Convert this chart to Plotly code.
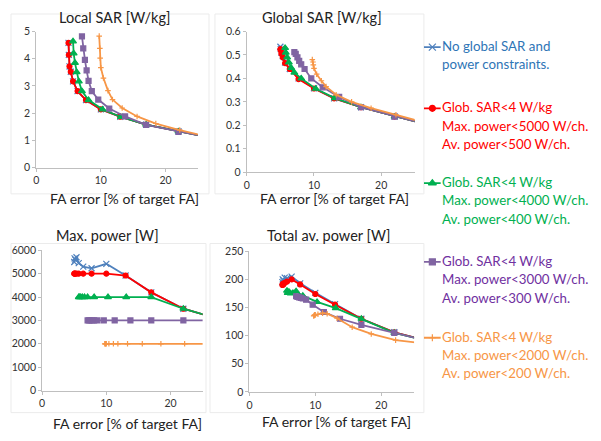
import plotly.graph_objects as go

# The page body adds an 8 px margin, so the figure is sized to fill the rest of the window.
OFF = 8
W, H = 601 - OFF, 441 - OFF

# ---------------- data ----------------
series_names = [
    "No global SAR and<br>power constraints.",
    "Glob. SAR<4 W/kg<br>Max. power<5000 W/ch.<br>Av. power<500 W/ch.",
    "Glob. SAR<4 W/kg<br>Max. power<4000 W/ch.<br>Av. power<400 W/ch.",
    "Glob. SAR<4 W/kg<br>Max. power<3000 W/ch.<br>Av. power<300 W/ch.",
    "Glob. SAR<4 W/kg<br>Max. power<2000 W/ch.<br>Av. power<200 W/ch.",
]

# FA error [% of target FA]
fa_blue = [5.0, 5.05, 5.15, 5.35, 5.7, 6.4, 7.7, 10.0, 13.0, 17.0, 22.0, 28.0]
fa_red = [5.0, 5.05, 5.15, 5.35, 5.7, 6.4, 7.7, 10.0, 13.0, 17.0, 22.0, 28.0]
fa_green = [5.7, 5.8, 6.0, 6.26, 6.6, 7.08, 8.1, 10.26, 13.1, 17.0, 22.0, 28.0]
fa_purple = [7.08, 7.28, 7.54, 7.8, 8.1, 8.6, 9.6, 11.3, 13.75, 17.0, 22.0, 28.0]
fa_orange = [9.75, 9.85, 9.9, 10.0, 10.4, 11.1, 11.8, 13.3, 15.6, 18.5, 22.2, 28.0]

# Local SAR [W/kg]
local_blue = [4.58, 4.14, 3.72, 3.52, 3.17, 2.81, 2.48, 2.14, 1.87, 1.58, 1.33, 1.05]
local_red = [4.58, 4.14, 3.72, 3.52, 3.17, 2.81, 2.48, 2.14, 1.87, 1.58, 1.33, 1.05]
local_green = [4.64, 4.2, 3.85, 3.51, 3.17, 2.81, 2.48, 2.14, 1.86, 1.58, 1.33, 1.05]
local_purple = [4.82, 4.38, 3.96, 3.57, 3.19, 2.81, 2.5, 2.17, 1.88, 1.57, 1.31, 1.05]
local_orange = [4.83, 4.38, 4.02, 3.67, 3.29, 2.83, 2.5, 2.19, 1.88, 1.62, 1.38, 1.05]

# Global SAR [W/kg]
global_blue = [0.535, 0.525, 0.51, 0.495, 0.468, 0.44, 0.4, 0.358, 0.315, 0.277, 0.237, 0.195]
global_red = [0.525, 0.52, 0.505, 0.49, 0.465, 0.44, 0.397, 0.357, 0.315, 0.277, 0.237, 0.195]
global_green = [0.53, 0.51, 0.49, 0.468, 0.445, 0.425, 0.40, 0.356, 0.316, 0.277, 0.237, 0.195]
global_purple = [0.512, 0.505, 0.49, 0.475, 0.46, 0.44, 0.40, 0.362, 0.321, 0.277, 0.237, 0.195]
global_orange = [0.48, 0.47, 0.458, 0.443, 0.418, 0.39, 0.365, 0.33, 0.30, 0.273, 0.245, 0.2]

# Max. power [W]
maxp_blue = [5500, 5650, 5600, 5700, 5450, 5300, 5230, 5420, 4920, 4200, 3500, 3030]
maxp_red = [5000, 5000, 5000, 5000, 5000, 5000, 5000, 5000, 4920, 4200, 3500, 3030]
maxp_green = [4000, 4000, 4000, 4000, 4000, 4000, 4000, 4000, 4000, 4000, 3500, 3030]
maxp_purple = [3000, 3000, 3000, 3000, 3000, 3000, 3000, 3000, 3000, 3000, 3000, 3000]
maxp_orange = [2000, 2000, 2000, 2000, 2000, 2000, 2000, 2000, 2000, 2000, 2000, 2000]

# Total av. power [W]
avp_blue = [195, 200, 198, 203, 202, 205, 193, 176, 156, 130, 106, 88]
avp_red = [190, 192, 191, 194, 196, 200, 191, 174, 155, 130, 106, 88]
avp_green = [180, 176, 178, 175, 176, 179, 171, 160, 149, 130, 105, 88]
avp_purple = [170, 169, 168, 167, 166, 164, 155, 142, 130, 119, 105, 88]
avp_orange = [135, 136, 137, 137, 138, 140, 139, 131, 115, 103, 92, 84]

panel_titles = ["Local SAR [W/kg]", "Global SAR [W/kg]", "Max. power [W]", "Total av. power [W]"]
x_title = "FA error [% of target FA]"
x_ticks = [0, 10, 20]

fa_all = [fa_blue, fa_red, fa_green, fa_purple, fa_orange]
panel_values = [
    [local_blue, local_red, local_green, local_purple, local_orange],
    [global_blue, global_red, global_green, global_purple, global_orange],
    [maxp_blue, maxp_red, maxp_green, maxp_purple, maxp_orange],
    [avp_blue, avp_red, avp_green, avp_purple, avp_orange],
]

# ---------------- styles ----------------
line_colors = ["#4F81BD", "#FF0000", "#00B050", "#8064A2", "#F79646"]
text_colors = ["#2E75B6", "#FF0000", "#00B050", "#7030A0", "#F79646"]
symbols = ["x-thin-open", "circle", "triangle-up", "square", "cross-thin-open"]
msizes = [6, 5, 6, 5, 4]
FONT = "Lato"


def fx(p):
    return min(max((p - OFF) / W, 0), 1)


def fy(p):
    return min(max(1 - (p - OFF) / H, 0), 1)


# window-pixel layout of the four plot areas: (x0, x1, ytop, ybottom)
areas = [(33.3, 195.8, 26, 166), (245, 413.8, 26, 170.7),
         (39.3, 200.6, 251, 395.3), (247.7, 413.1, 252, 396.7)]
y_ranges = [[0, 5], [0, 0.6], [0, 6000], [0, 250]]
y_dticks = [1, 0.1, 1000, 50]
title_pos = [(112, 12), (321, 12), (105, 235.5), (327, 235.5)]
xtitle_pos = [(122, 198), (333, 197.5), (125, 429.5), (335, 427.5)]
frames = [(2, 207, 3, 193), (213, 423, 3, 193), (3, 204, 244, 418), (208, 423, 244, 418)]

# legend block (window pixels): key line span, text start, first-line rows, line pitch
key_x = (423, 440)
legend_text_x = 439
legend_rows = [42, 105, 182, 263, 341]
legend_pitch = 18.8

fig = go.Figure()
layout = dict(
    width=W, height=H, margin=dict(l=0, r=0, t=0, b=0),
    paper_bgcolor="white", plot_bgcolor="white",
    font=dict(family=FONT, size=11, color="#333333"),
    annotations=[], shapes=[], showlegend=False,
)

for p in range(4):
    sfx = "" if p == 0 else str(p + 1)
    x0, x1, yt, yb = areas[p]
    axis_common = dict(showgrid=False, zeroline=False, showline=True, linecolor="#BFBFBF",
                       linewidth=1, ticks="outside", ticklen=3, tickcolor="#BFBFBF",
                       tickfont=dict(family=FONT, size=10.5, color="#333333"))
    layout["xaxis" + sfx] = dict(domain=[fx(x0), fx(x1)], range=[0, 25], tickvals=x_ticks,
                                 anchor="y" + sfx, **axis_common)
    layout["yaxis" + sfx] = dict(domain=[fy(yb), fy(yt)], range=y_ranges[p], dtick=y_dticks[p],
                                 anchor="x" + sfx, **axis_common)
    for s in range(5):
        fig.add_trace(go.Scatter(
            x=fa_all[s], y=panel_values[p][s], mode="lines+markers",
            xaxis="x" + sfx, yaxis="y" + sfx,
            line=dict(color=line_colors[s], width=1.8),
            marker=dict(symbol=symbols[s], size=msizes[s], color=line_colors[s],
                        line=dict(color=line_colors[s], width=1.2)),
            name=series_names[s].replace("<br>", " "),
        ))
    tx, ty = title_pos[p]
    layout["annotations"].append(dict(text=panel_titles[p], x=fx(tx), y=fy(ty), xref="paper",
                                      yref="paper", showarrow=False, xanchor="center",
                                      yanchor="middle", font=dict(family=FONT, size=14.5, color="#222222")))
    tx, ty = xtitle_pos[p]
    layout["annotations"].append(dict(text=x_title, x=fx(tx), y=fy(ty), xref="paper",
                                      yref="paper", showarrow=False, xanchor="center",
                                      yanchor="middle", font=dict(family=FONT, size=14, color="#222222")))
    a, b, c, d = frames[p]
    layout["shapes"].append(dict(type="rect", xref="paper", yref="paper", x0=fx(a), x1=fx(b),
                                 y0=fy(d), y1=fy(c), line=dict(color="#EBEBEB", width=1),
                                 layer="below"))

# legend keys on a hidden helper axis measured in window pixels
layout["xaxis5"] = dict(domain=[fx(key_x[0]), fx(key_x[1])], range=[0, 1], visible=False,
                        anchor="y5", fixedrange=True)
layout["yaxis5"] = dict(domain=[0, 1], range=[441, OFF], visible=False, anchor="x5",
                        fixedrange=True)
for s in range(5):
    row = legend_rows[s]
    fig.add_trace(go.Scatter(x=[0, 1], y=[row, row], mode="lines", xaxis="x5", yaxis="y5",
                             line=dict(color=line_colors[s], width=1.8), hoverinfo="skip"))
    fig.add_trace(go.Scatter(x=[0.5], y=[row], mode="markers", xaxis="x5", yaxis="y5",
                             marker=dict(symbol=symbols[s], size=msizes[s] + 1, color=line_colors[s],
                                         line=dict(color=line_colors[s], width=1.2)),
                             cliponaxis=False, hoverinfo="skip"))
    for k, line in enumerate(series_names[s].split("<br>")):
        layout["annotations"].append(dict(
            text=line, x=fx(legend_text_x), y=fy(row + k * legend_pitch - 1),
            xref="paper", yref="paper", showarrow=False, xanchor="left", yanchor="middle",
            font=dict(family=FONT, size=13.3, color=text_colors[s])))

fig.update_layout(**layout)
fig.write_html("out.html")
